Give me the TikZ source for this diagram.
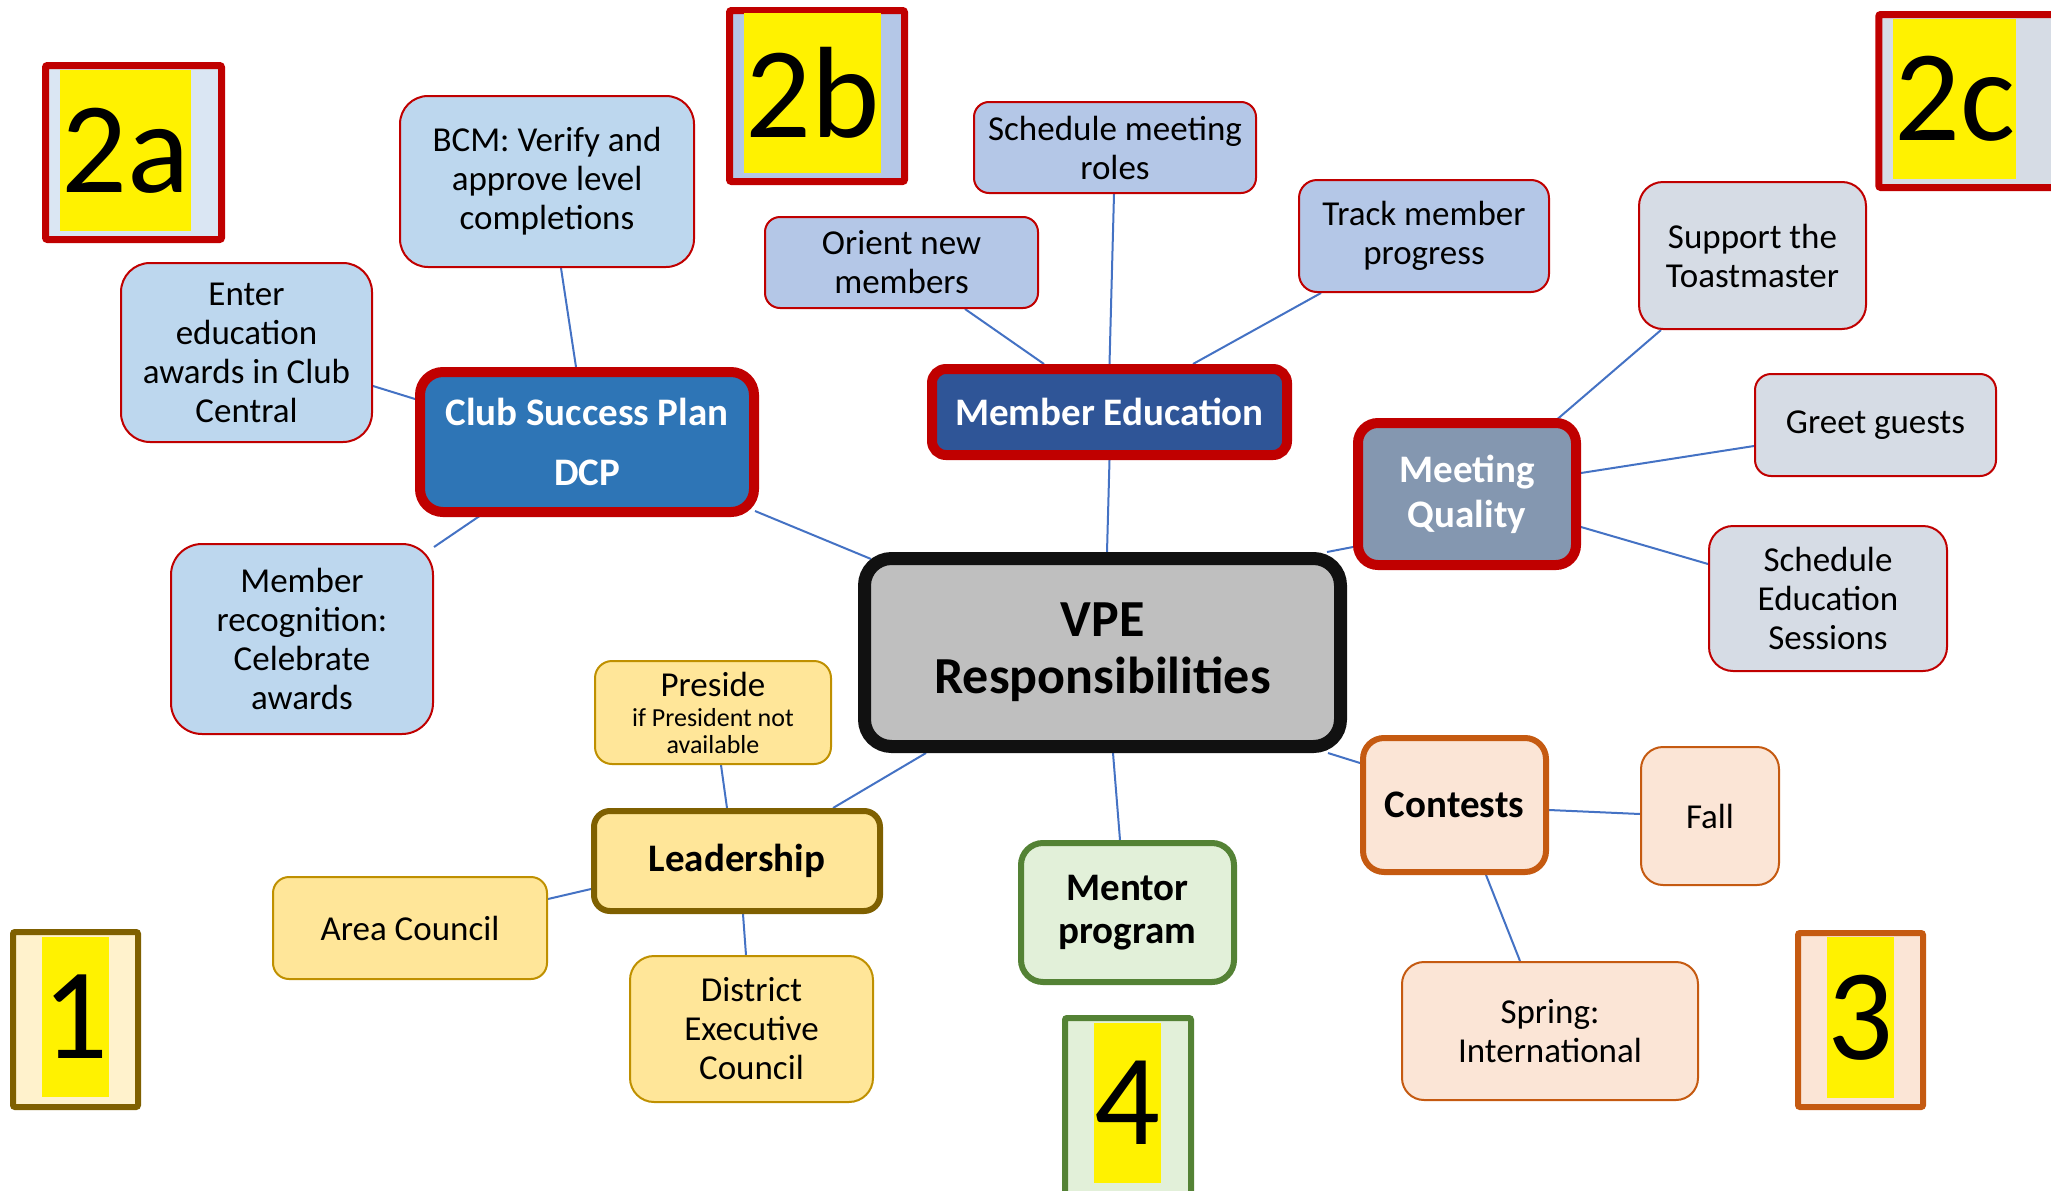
\documentclass[tikz,border=0pt]{standalone}
\usepackage{fontspec}
\setmainfont{Carlito}
\usetikzlibrary{backgrounds}

\definecolor{cRed}{HTML}{C00000}
\definecolor{cLink}{HTML}{4472C4}
\definecolor{cCSP}{HTML}{2E75B6}
\definecolor{cME}{HTML}{2F5597}
\definecolor{cMQ}{HTML}{8497B0}
\definecolor{cLeafA}{HTML}{BDD7EE}
\definecolor{cLeafB}{HTML}{B4C7E7}
\definecolor{cLeafC}{HTML}{D6DCE5}
\definecolor{cBadgeA}{HTML}{DAE6F3}
\definecolor{cGold}{HTML}{FFE699}
\definecolor{cGoldLine}{HTML}{BF9000}
\definecolor{cBrown}{HTML}{7F6000}
\definecolor{cCream}{HTML}{FFF2CC}
\definecolor{cGreen}{HTML}{548235}
\definecolor{cMint}{HTML}{E2F0D9}
\definecolor{cOrange}{HTML}{C55A11}
\definecolor{cPeach}{HTML}{FBE5D6}
\definecolor{cGrey}{HTML}{BFBFBF}
\definecolor{cBlack}{HTML}{111111}

\begin{document}
\begin{tikzpicture}[x=1pt,y=-1pt,
  leaf/.style={draw=cRed, line width=2pt, inner sep=0pt, align=center,
    font=\fontsize{35}{39}\selectfont},
  hub/.style={line width=10pt, inner sep=0pt, align=center,
    font=\bfseries\fontsize{39}{45}\selectfont},
  link/.style={draw=cLink, line width=2pt},
  badge/.style={line width=7pt, rounded corners=2pt, inner sep=0pt},
  tag/.style={fill=yellow, inner sep=0pt, font=\fontsize{130}{130}\selectfont}]

\useasboundingbox (0,0) rectangle (2051,1191);
\clip (0,0) rectangle (2051,1191);

% numbered corner badges
\node[badge, draw=cRed, fill=cBadgeA, minimum width=176pt, minimum height=174pt] (b2a) at (133.5,152.5) {};
\node[tag, minimum width=131pt, minimum height=161pt] (t2a) at (125.5,150.5) {2a};
\node[badge, draw=cRed, fill=cLeafB, minimum width=175pt, minimum height=171pt] (b2b) at (817,96) {};
\node[tag, minimum width=137pt, minimum height=160pt] (t2b) at (812.5,93) {2b};
\node[badge, draw=cRed, fill=cLeafC, minimum width=188pt, minimum height=173pt] (b2c) at (1972.75,101) {};
\node[tag, minimum width=123pt, minimum height=160pt] (t2c) at (1954.5,99) {2c};
\node[badge, line width=6pt, draw=cBrown, fill=cCream, minimum width=125pt, minimum height=175pt] (b1) at (75.5,1019.5) {};
\node[tag, minimum width=67pt, minimum height=160pt] (t1) at (75.5,1017) {1};
\node[badge, line width=6pt, draw=cGreen, fill=cMint, minimum width=126pt, minimum height=187pt] (b4) at (1128,1111.5) {};
\node[tag, minimum width=67pt, minimum height=160pt] (t4) at (1127.5,1103) {4};
\node[badge, line width=6pt, draw=cOrange, fill=cPeach, minimum width=125pt, minimum height=174pt] (b3) at (1860.5,1020) {};
\node[tag, minimum width=67pt, minimum height=161pt] (t3) at (1860.5,1017.5) {3};

% centre
\node[draw=cBlack, fill=cGrey, line width=13pt, rounded corners=27pt, inner sep=0pt, align=center,
  minimum width=476pt, minimum height=188pt, font=\bfseries\fontsize{52}{57}\selectfont]
  (vpe) at (1102.5,652.5) {VPE\\Responsibilities};

% main areas
\node[hub, draw=cRed, fill=cCSP, text=white, rounded corners=23pt, minimum width=334pt, minimum height=140pt,
  font=\bfseries\fontsize{39}{60}\selectfont] (csp) at (587,442) {Club Success Plan\\DCP};
\node[hub, draw=cRed, fill=cME, text=white, rounded corners=14pt, minimum width=355pt, minimum height=86pt]
  (me) at (1109.5,412) {Member Education};
\node[hub, draw=cRed, fill=cMQ, text=white, rounded corners=20pt, minimum width=218pt, minimum height=142pt]
  (mq) at (1467,494) {Meeting\\Quality};
\node[hub, line width=6pt, draw=cBrown, fill=cGold, rounded corners=16pt, minimum width=286pt, minimum height=100pt]
  (lead) at (737,861) {Leadership};
\node[hub, line width=6pt, draw=cGreen, fill=cMint, rounded corners=22pt, minimum width=213pt, minimum height=139pt,
  font=\bfseries\fontsize{39}{43}\selectfont] (mentor) at (1127.5,912.5) {Mentor\\program};
\node[hub, line width=6pt, draw=cOrange, fill=cPeach, rounded corners=21pt, minimum width=183pt, minimum height=134pt]
  (contests) at (1454.5,805) {Contests};

% club success plan tasks
\node[leaf, fill=cLeafA, rounded corners=28pt, minimum width=294pt, minimum height=171pt] (bcm) at (547,181.5)
  {BCM: Verify and\\approve level\\completions};
\node[leaf, fill=cLeafA, rounded corners=29pt, minimum width=251pt, minimum height=179pt] (enter) at (246.5,352.5)
  {Enter\\education\\awards in Club\\Central};
\node[leaf, fill=cLeafA, rounded corners=31pt, minimum width=262pt, minimum height=190pt] (mrec) at (302,639)
  {Member\\recognition:\\Celebrate\\awards};

% member education tasks
\node[leaf, fill=cLeafB, rounded corners=15pt, minimum width=273pt, minimum height=91pt] (orient) at (901.5,262.5)
  {Orient new\\members};
\node[leaf, fill=cLeafB, rounded corners=15pt, minimum width=282pt, minimum height=91pt] (roles) at (1115,147.5)
  {Schedule meeting\\roles};
\node[leaf, fill=cLeafB, rounded corners=18pt, minimum width=250pt, minimum height=112pt] (track) at (1424,236)
  {Track member\\progress};

% meeting quality tasks
\node[leaf, fill=cLeafC, rounded corners=24pt, minimum width=227pt, minimum height=147pt] (support) at (1752.5,255.5)
  {Support the\\Toastmaster};
\node[leaf, fill=cLeafC, rounded corners=16pt, minimum width=241pt, minimum height=102pt] (greet) at (1875.5,425)
  {Greet guests};
\node[leaf, fill=cLeafC, rounded corners=24pt, minimum width=238pt, minimum height=145pt] (sessions) at (1828,598.5)
  {Schedule\\Education\\Sessions};

% leadership tasks
\node[leaf, draw=cGoldLine, fill=cGold, rounded corners=17pt, minimum width=236pt, minimum height=103pt,
  font=\fontsize{26}{27}\selectfont] (preside) at (713,712.5)
  {{\fontsize{35}{39}\selectfont Preside}\\[3pt]if President not\\available};
\node[leaf, draw=cGoldLine, fill=cGold, rounded corners=16pt, minimum width=274pt, minimum height=102pt] (area) at (410,928)
  {Area Council};
\node[leaf, draw=cGoldLine, fill=cGold, rounded corners=24pt, minimum width=243pt, minimum height=146pt] (district) at (751.5,1029)
  {District\\Executive\\Council};

% contest seasons
\node[leaf, draw=cOrange, fill=cPeach, rounded corners=22pt, minimum width=138pt, minimum height=138pt] (fall) at (1710,816)
  {Fall};
\node[leaf, draw=cOrange, fill=cPeach, rounded corners=22pt, minimum width=296pt, minimum height=138pt] (spring) at (1550,1031)
  {Spring:\\International};

% connectors
\begin{scope}[on background layer]
\draw[link] ([xshift=14pt]bcm.south) -- ([xshift=-11pt]csp.north);
\draw[link] ([yshift=-33.5pt]enter.east) -- ([yshift=43pt]csp.west);
\draw[link] ([yshift=-4pt]mrec.north east) -- ([xshift=-103pt,yshift=4pt]csp.south);
\draw[link] ([xshift=-4pt,yshift=6pt]csp.south east) -- ([xshift=13pt,yshift=-7pt]vpe.north west);
\draw[link] ([xshift=63.5pt]orient.south) -- ([xshift=-65.5pt]me.north);
\draw[link] ([xshift=-1pt]roles.south) -- (me.north);
\draw[link] ([xshift=-103pt]track.south) -- ([xshift=83.5pt]me.north);
\draw[link] (me.south) -- ([xshift=4.5pt]vpe.north);
\draw[link] ([yshift=23pt]mq.south west) -- ([xshift=-20pt]vpe.north east);
\draw[link] ([xshift=-91.5pt]support.south) -- ([xshift=-27pt,yshift=-4pt]mq.north east);
\draw[link] ([yshift=-21pt]greet.west) -- ([yshift=21pt]mq.east);
\draw[link] ([yshift=34.5pt]sessions.west) -- ([yshift=-33pt]mq.east);
\draw[link] ([xshift=8pt]preside.south) -- ([xshift=-10pt]lead.north);
\draw[link] ([xshift=96pt]lead.north) -- ([xshift=68pt]vpe.south west);
\draw[link] ([yshift=29pt]area.east) -- ([yshift=-28pt]lead.west);
\draw[link] ([xshift=6pt]lead.south) -- ([xshift=-5.5pt]district.north);
\draw[link] ([xshift=-7.5pt]mentor.north) -- ([xshift=10.5pt]vpe.south);
\draw[link] ([yshift=-28pt]contests.north west) -- ([xshift=-19pt]vpe.south east);
\draw[link] ([yshift=-5pt]contests.east) -- ([yshift=2pt]fall.west);
\draw[link] ([xshift=31.5pt]contests.south) -- ([xshift=-30pt]spring.north);
\end{scope}
\end{tikzpicture}
\end{document}
